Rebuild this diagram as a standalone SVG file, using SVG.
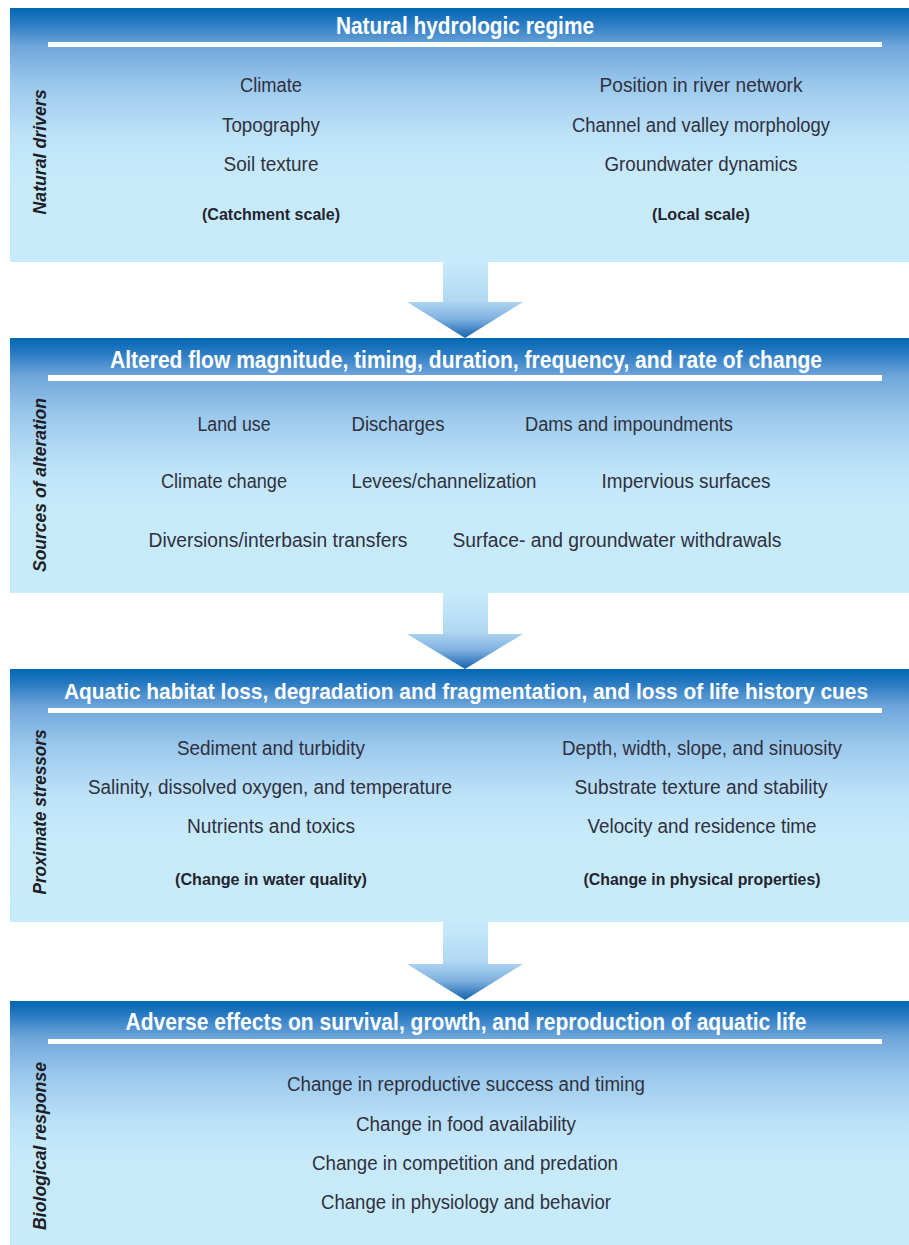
<svg xmlns="http://www.w3.org/2000/svg" width="909" height="1245" viewBox="0 0 909 1245">
<defs>
<linearGradient id="boxGrad" x1="0" y1="0" x2="0" y2="1">
<stop offset="0" stop-color="#0066b2"/>
<stop offset="0.06" stop-color="#2a7bc3"/>
<stop offset="0.15" stop-color="#6fa6da"/>
<stop offset="0.3" stop-color="#9ac8ec"/>
<stop offset="0.5" stop-color="#bde2f8"/>
<stop offset="0.65" stop-color="#c7eafb"/>
<stop offset="1" stop-color="#c8ebfc"/>
</linearGradient>
<linearGradient id="arrowGrad" x1="0" y1="0" x2="0" y2="1">
<stop offset="0" stop-color="#c8eafb"/>
<stop offset="0.5" stop-color="#b2d8f3"/>
<stop offset="0.75" stop-color="#7fb1e0"/>
<stop offset="1" stop-color="#1463ad"/>
</linearGradient>
</defs>
<style>
.box{fill:url(#boxGrad);}
.rule{fill:#ffffff;}
.hdr{font-family:"Liberation Sans Narrow","Liberation Sans",Arial,sans-serif;font-weight:bold;font-size:23px;fill:#ffffff;text-anchor:middle;}
.txt{font-family:"Liberation Sans Narrow","Liberation Sans",Arial,sans-serif;font-size:20px;fill:#30303e;text-anchor:middle;}
.sub{font-family:"Liberation Sans Narrow","Liberation Sans",Arial,sans-serif;font-weight:bold;font-size:17px;fill:#24242e;text-anchor:middle;}
.side{font-family:"Liberation Sans","Liberation Sans Narrow",Arial,sans-serif;font-weight:bold;font-style:italic;font-size:18px;fill:#1e1e26;text-anchor:middle;}
.arrow{fill:url(#arrowGrad);}
</style>
<rect width="909" height="1245" fill="#ffffff"/>

<g id="connectors">
<polygon class="arrow" points="443,262 488,262 488,302 523,302 465,338 407,302 443,302"/>
<polygon class="arrow" points="443,593 488,593 488,634 523,634 465,669 407,634 443,634"/>
<polygon class="arrow" points="443,922 488,922 488,964 523,964 465,1000 407,964 443,964"/>
</g>

<g id="natural-drivers">
<rect class="box" x="10" y="8" width="899" height="254"/>
<text class="hdr" x="465" y="34" textLength="258" lengthAdjust="spacingAndGlyphs">Natural hydrologic regime</text>
<rect class="rule" x="48" y="42" width="834" height="5"/>
<text class="side" transform="translate(46,152) rotate(-90)" textLength="125" lengthAdjust="spacingAndGlyphs">Natural drivers</text>
<text class="txt" x="271" y="92" textLength="62" lengthAdjust="spacingAndGlyphs">Climate</text>
<text class="txt" x="271" y="132" textLength="98" lengthAdjust="spacingAndGlyphs">Topography</text>
<text class="txt" x="271" y="171" textLength="95" lengthAdjust="spacingAndGlyphs">Soil texture</text>
<text class="sub" x="271" y="220" textLength="138" lengthAdjust="spacingAndGlyphs">(Catchment scale)</text>
<text class="txt" x="701" y="92" textLength="203" lengthAdjust="spacingAndGlyphs">Position in river network</text>
<text class="txt" x="701" y="132" textLength="258" lengthAdjust="spacingAndGlyphs">Channel and valley morphology</text>
<text class="txt" x="701" y="171" textLength="193" lengthAdjust="spacingAndGlyphs">Groundwater dynamics</text>
<text class="sub" x="701" y="220" textLength="98" lengthAdjust="spacingAndGlyphs">(Local scale)</text>
</g>

<g id="sources-of-alteration">
<rect class="box" x="10" y="338" width="899" height="255"/>
<text class="hdr" x="466" y="368" textLength="712" lengthAdjust="spacingAndGlyphs">Altered flow magnitude, timing, duration, frequency, and rate of change</text>
<rect class="rule" x="48" y="375" width="834" height="6"/>
<text class="side" transform="translate(46,485) rotate(-90)" textLength="174" lengthAdjust="spacingAndGlyphs">Sources of alteration</text>
<text class="txt" x="234" y="431" textLength="73" lengthAdjust="spacingAndGlyphs">Land use</text>
<text class="txt" x="398" y="431" textLength="93" lengthAdjust="spacingAndGlyphs">Discharges</text>
<text class="txt" x="629" y="431" textLength="208" lengthAdjust="spacingAndGlyphs">Dams and impoundments</text>
<text class="txt" x="224" y="488" textLength="126" lengthAdjust="spacingAndGlyphs">Climate change</text>
<text class="txt" x="444" y="488" textLength="185" lengthAdjust="spacingAndGlyphs">Levees/channelization</text>
<text class="txt" x="686" y="488" textLength="169" lengthAdjust="spacingAndGlyphs">Impervious surfaces</text>
<text class="txt" x="278" y="547" textLength="259" lengthAdjust="spacingAndGlyphs">Diversions/interbasin transfers</text>
<text class="txt" x="617" y="547" textLength="329" lengthAdjust="spacingAndGlyphs">Surface- and groundwater withdrawals</text>
</g>

<g id="proximate-stressors">
<rect class="box" x="10" y="669" width="899" height="253"/>
<text class="hdr" x="466" y="699" style="font-size:22px" textLength="804" lengthAdjust="spacingAndGlyphs">Aquatic habitat loss, degradation and fragmentation, and loss of life history cues</text>
<rect class="rule" x="48" y="708" width="834" height="5"/>
<text class="side" transform="translate(46,812) rotate(-90)" textLength="165" lengthAdjust="spacingAndGlyphs">Proximate stressors</text>
<text class="txt" x="271" y="755" textLength="188" lengthAdjust="spacingAndGlyphs">Sediment and turbidity</text>
<text class="txt" x="270" y="794" textLength="364" lengthAdjust="spacingAndGlyphs">Salinity, dissolved oxygen, and temperature</text>
<text class="txt" x="271" y="833" textLength="168" lengthAdjust="spacingAndGlyphs">Nutrients and toxics</text>
<text class="sub" x="271" y="885" textLength="192" lengthAdjust="spacingAndGlyphs">(Change in water quality)</text>
<text class="txt" x="702" y="755" textLength="280" lengthAdjust="spacingAndGlyphs">Depth, width, slope, and sinuosity</text>
<text class="txt" x="701" y="794" textLength="253" lengthAdjust="spacingAndGlyphs">Substrate texture and stability</text>
<text class="txt" x="702" y="833" textLength="229" lengthAdjust="spacingAndGlyphs">Velocity and residence time</text>
<text class="sub" x="702" y="885" textLength="237" lengthAdjust="spacingAndGlyphs">(Change in physical properties)</text>
</g>

<g id="biological-response">
<rect class="box" x="10" y="1001" width="899" height="244"/>
<text class="hdr" x="466" y="1030" textLength="681" lengthAdjust="spacingAndGlyphs">Adverse effects on survival, growth, and reproduction of aquatic life</text>
<rect class="rule" x="48" y="1039" width="834" height="5"/>
<text class="side" transform="translate(46,1146) rotate(-90)" textLength="168" lengthAdjust="spacingAndGlyphs">Biological response</text>
<text class="txt" x="466" y="1091" textLength="358" lengthAdjust="spacingAndGlyphs">Change in reproductive success and timing</text>
<text class="txt" x="466" y="1131" textLength="220" lengthAdjust="spacingAndGlyphs">Change in food availability</text>
<text class="txt" x="465" y="1170" textLength="306" lengthAdjust="spacingAndGlyphs">Change in competition and predation</text>
<text class="txt" x="466" y="1209" textLength="290" lengthAdjust="spacingAndGlyphs">Change in physiology and behavior</text>
</g>
</svg>
